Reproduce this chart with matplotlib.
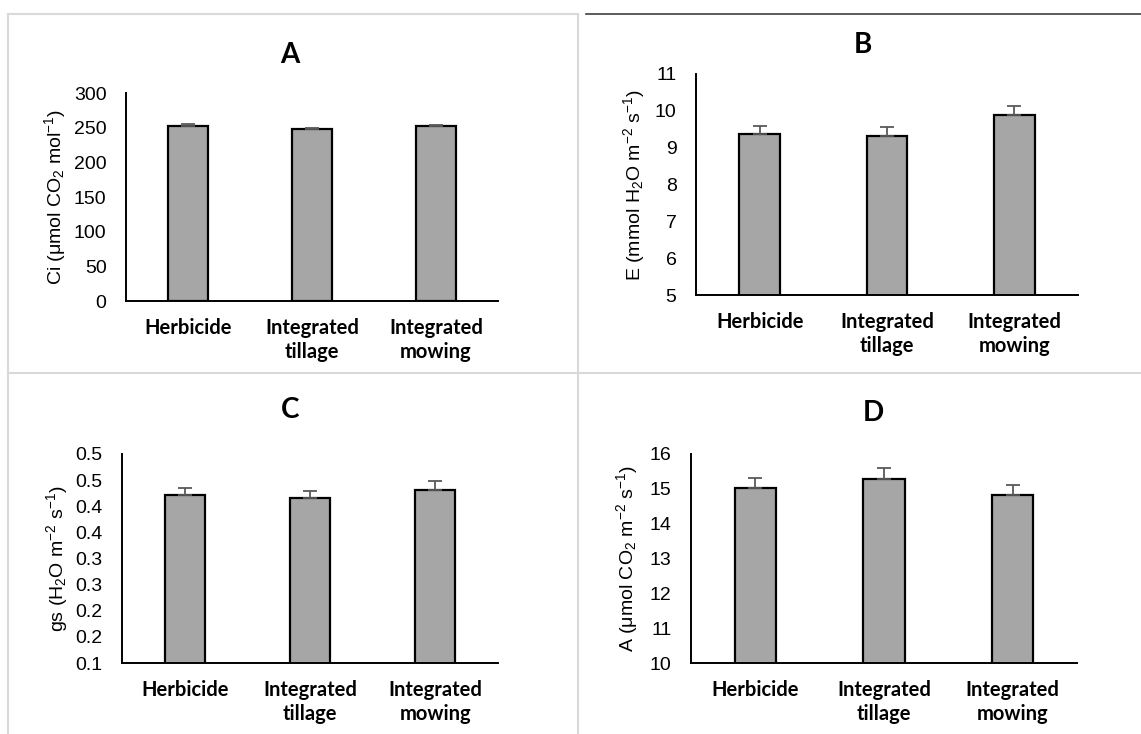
import matplotlib
matplotlib.use("Agg")
import matplotlib.pyplot as plt
from matplotlib.lines import Line2D

plt.rcParams["mathtext.fontset"] = "custom"
plt.rcParams["mathtext.rm"] = "Liberation Sans"
plt.rcParams["mathtext.it"] = "Liberation Sans:italic"

treatments = ["Herbicide", "Integrated\ntillage", "Integrated\nmowing"]

ci_vals = [253, 248, 253]
ci_err = [2, 2, 1]
e_vals = [9.37, 9.32, 9.88]
e_err = [0.23, 0.24, 0.24]
gs_vals = [0.422, 0.415, 0.432]
gs_err = [0.013, 0.014, 0.017]
a_vals = [15.03, 15.28, 14.82]
a_err = [0.29, 0.33, 0.30]

ci_ticks = [0, 50, 100, 150, 200, 250, 300]
e_ticks = [5, 6, 7, 8, 9, 10, 11]
gs_ticks = [0.1, 0.15, 0.2, 0.25, 0.3, 0.35, 0.4, 0.45, 0.5]
gs_ticklabels = ["0.1", "0.2", "0.2", "0.3", "0.3", "0.4", "0.4", "0.5", "0.5"]
a_ticks = [10, 11, 12, 13, 14, 15, 16]

W, H = 1141, 734
fig = plt.figure(figsize=(W / 100, H / 100), dpi=100)


def px_axes(l, t, r, b):
    return fig.add_axes([l / W, 1 - b / H, (r - l) / W, (b - t) / H])


def panel(box, vals, err, ticks, ticklabels, ylabel, title, title_xy, label_off):
    ax = px_axes(*box)
    x = range(len(vals))
    ax.bar(x, vals, width=0.32, color="#a6a6a6", edgecolor="black", linewidth=1.6, zorder=2)
    ax.errorbar(x, vals, yerr=[[0] * len(err), err], fmt="none", ecolor="#595959",
                elinewidth=1.3, capsize=4.7, capthick=1.3, zorder=3)
    ax.set_xlim(-0.5, len(vals) - 0.5)
    ax.set_ylim(ticks[0], ticks[-1])
    ax.set_yticks(ticks)
    ax.set_yticklabels(ticklabels if ticklabels else [str(t) for t in ticks],
                       fontfamily="Liberation Sans", fontsize=14)
    ax.set_xticks(list(x))
    ax.set_xticklabels(treatments, fontfamily="Lato", fontweight="bold", fontsize=14.5,
                       linespacing=1.25)
    ax.tick_params(axis="both", length=0)
    ax.tick_params(axis="y", pad=14)
    ax.tick_params(axis="x", pad=12)
    for s in ["top", "right"]:
        ax.spines[s].set_visible(False)
    for s in ["left", "bottom"]:
        ax.spines[s].set_linewidth(1.4)
        ax.spines[s].set_color("black")
    ax.set_ylabel(ylabel, fontfamily="Liberation Sans", fontsize=14)
    ax.yaxis.set_label_coords(-label_off / (box[2] - box[0]), 0.5)
    fig.text(title_xy[0] / W, 1 - title_xy[1] / H, title, fontfamily="Lato",
             fontweight="bold", fontsize=20, ha="center", va="center")
    return ax


panel((126, 93, 498, 301), ci_vals, ci_err, ci_ticks, None,
      r"Ci ($\mathrm{\mu}$mol CO$_2$ mol$^{\mathrm{-1}}$)", "A", (290, 55), 58)
panel((696, 74, 1078, 295), e_vals, e_err, e_ticks, None,
      r"E (mmol H$_2$O m$^{\mathrm{-2}}$ s$^{\mathrm{-1}}$)", "B", (863, 45), 49)
panel((122, 454, 498, 663), gs_vals, gs_err, gs_ticks, gs_ticklabels,
      r"gs (H$_2$O m$^{\mathrm{-2}}$ s$^{\mathrm{-1}}$)", "C", (290, 410), 52)
panel((691, 454, 1077, 663), a_vals, a_err, a_ticks, None,
      r"A ($\mathrm{\mu}$mol CO$_2$ m$^{\mathrm{-2}}$ s$^{\mathrm{-1}}$)", "D", (873, 413), 51)

# panel frames
light = "#d9d9d9"


def frame_line(x0, y0, x1, y1, color=light, lw=1.5):
    fig.add_artist(Line2D([x0 / W, x1 / W], [1 - y0 / H, 1 - y1 / H],
                          color=color, linewidth=lw, transform=fig.transFigure))


frame_line(8, 13.5, 578, 13.5)
frame_line(586, 13.5, W, 13.5, color="#404040", lw=1.2)
frame_line(8, 13.5, 8, H)
frame_line(578, 13.5, 578, H)
frame_line(8, 373, W, 373)

fig.savefig("out.png", dpi=100)
